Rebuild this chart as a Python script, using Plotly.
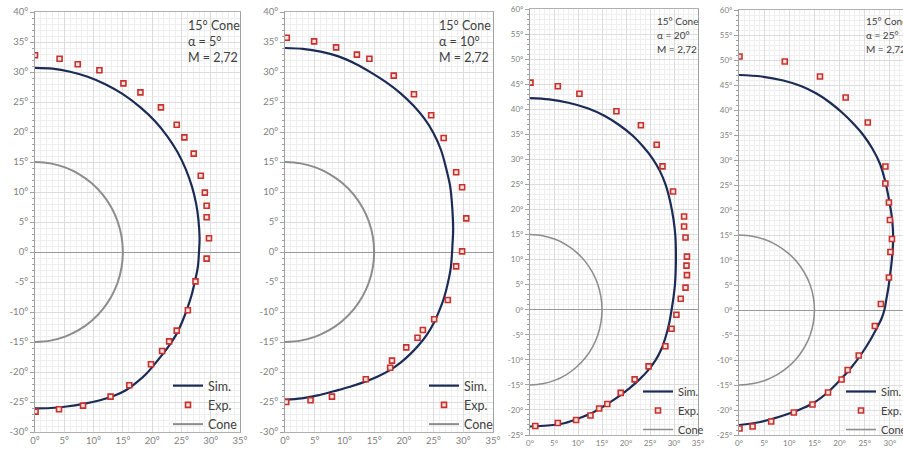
import plotly.graph_objects as go

W, H = 903, 450

# ---- data (angles in degrees) ----
cone_x = [0, 2.6, 5.13, 7.5, 9.64, 11.49, 12.99, 14.1, 14.77, 15.0,
          14.77, 14.1, 12.99, 11.49, 9.64, 7.5, 5.13, 2.6, 0]
cone_y = [15.0, 14.77, 14.1, 12.99, 11.49, 9.64, 7.5, 5.13, 2.6, 0.0,
          -2.6, -5.13, -7.5, -9.64, -11.49, -12.99, -14.1, -14.77, -15.0]

# alpha = 5
sim1_x = [0, 3.0, 6.0, 9.0, 12.0, 15.0, 18.0, 20.5, 22.5, 24.3, 25.7, 26.8, 27.5, 27.9, 28.1, 28.0,
          27.8, 27.3, 26.7, 25.9, 25.1, 24.2, 23.1, 21.9, 20.5, 19.1, 17.4, 15.6, 13.4, 11.1, 8.3, 5.4, 2.7, 0]
sim1_y = [30.7, 30.55, 30.04, 29.2, 27.95, 26.3, 24.1, 21.8, 19.4, 16.7, 13.9, 10.9, 8.1, 5.4, 2.3, 0.0,
          -2.5, -4.9, -7.3, -9.7, -11.7, -13.6, -15.3, -16.9, -18.6, -20.2, -21.7, -23.0, -24.0, -24.7, -25.3, -25.75, -26.0, -26.05]
exp1_x = [0, 4.2, 7.3, 11.0, 15.1, 18.0, 21.5, 24.2, 25.5, 27.1, 28.3, 29.0, 29.3, 29.3, 29.7, 29.3,
          27.4, 26.1, 24.2, 22.9, 21.7, 19.8, 16.1, 12.9, 8.2, 4.1, 0.1]
exp1_y = [32.8, 32.2, 31.3, 30.3, 28.1, 26.6, 24.1, 21.2, 19.1, 16.4, 12.7, 9.9, 7.7, 5.8, 2.3, -1.1,
          -4.9, -9.7, -13.1, -14.9, -16.5, -18.7, -22.2, -24.1, -25.6, -26.2, -26.6]

# alpha = 10
sim2_x = [0, 3.0, 6.0, 9.0, 12.0, 14.5, 17.0, 19.5, 21.6, 23.4, 25.0, 26.25, 27.1, 27.8, 28.15, 28.3, 28.2,
          27.9, 27.4, 26.8, 26.0, 25.1, 24.0, 22.7, 21.2, 19.5, 17.8, 15.7, 13.5, 10.8, 8.2, 5.5, 2.8, 0]
sim2_y = [34.0, 33.85, 33.4, 32.6, 31.3, 29.9, 28.3, 26.4, 24.4, 22.3, 19.8, 17.0, 14.0, 10.9, 7.3, 3.7, 1.5,
          -2.6, -5.2, -7.5, -9.7, -11.7, -13.6, -15.3, -16.9, -18.4, -19.6, -20.7, -21.6, -22.5, -23.2, -23.9, -24.4, -24.6]
exp2_x = [0.3, 4.9, 8.6, 12.1, 14.2, 18.3, 21.7, 24.6, 26.7, 28.8, 29.8, 30.5,
          29.8, 28.8, 27.4, 25.1, 23.2, 22.3, 20.4, 18.0, 17.7, 13.6, 7.9, 4.3, 0.2]
exp2_y = [35.7, 35.1, 34.1, 32.9, 32.2, 29.4, 26.3, 22.8, 19.0, 13.3, 10.8, 5.6,
          0.1, -2.4, -8.0, -11.2, -13.0, -14.3, -15.9, -18.1, -19.3, -21.2, -24.1, -24.7, -25.0]

# alpha = 20
sim3_x = [0, 4.0, 8.0, 12.0, 15.5, 18.5, 21.3, 23.6, 25.5, 27.1, 28.3, 29.2, 29.9, 30.3, 30.4, 30.35, 30.2,
          29.9, 29.5, 29.0, 28.3, 27.4, 26.2, 24.6, 22.7, 20.7, 18.5, 15.8, 12.9, 10.1, 7.3, 3.7, 0]
sim3_y = [42.2, 41.95, 41.3, 40.2, 38.7, 36.9, 34.8, 32.5, 30.2, 27.6, 24.8, 21.6, 18.0, 14.5, 11.0, 7.7, 5.0,
          2.5, 0.0, -2.7, -5.3, -7.8, -10.0, -12.1, -14.0, -15.7, -17.3, -19.0, -20.6, -21.7, -22.6, -23.1, -23.3]
exp3_x = [0.1, 5.8, 10.3, 18.0, 23.1, 26.4, 27.6, 29.8, 32.1, 32.1, 32.4, 32.7, 32.6, 32.7,
          32.4, 31.4, 30.5, 29.5, 28.2, 24.7, 21.8, 18.9, 16.1, 14.4, 12.6, 9.6, 5.8, 1.1]
exp3_y = [45.3, 44.6, 43.1, 39.6, 36.8, 32.9, 28.6, 23.6, 18.6, 16.6, 14.4, 10.6, 8.8, 6.9,
          4.4, 2.2, -1.0, -3.8, -7.3, -11.3, -13.9, -16.6, -18.8, -19.7, -21.1, -22.0, -22.6, -23.2]

# alpha = 25
sim4_x = [0, 4.5, 8.8, 12.3, 15.4, 18.2, 20.7, 22.9, 24.7, 26.5, 28.0, 29.0, 29.7, 30.3, 30.6, 30.6, 30.4,
          30.1, 29.7, 29.3, 28.9, 28.3, 27.4, 26.1, 24.4, 22.4, 20.1, 17.6, 14.8, 11.6, 8.2, 4.2, 0]
sim4_y = [47.0, 46.7, 45.9, 44.8, 43.3, 41.4, 39.3, 37.1, 35.0, 32.3, 29.3, 26.0, 22.7, 19.2, 16.0, 13.0, 10.2,
          7.5, 4.5, 2.2, 0.0, -1.8, -3.6, -6.0, -8.7, -11.4, -14.0, -16.5, -18.6, -20.1, -21.3, -22.4, -23.0]
exp4_x = [0.1, 9.1, 16.1, 21.2, 25.6, 29.1, 29.1, 29.8, 30.0, 30.4, 30.1, 29.8,
          28.2, 27.0, 23.8, 21.6, 20.4, 17.7, 14.6, 10.9, 6.4, 2.7, 0.1]
exp4_y = [50.7, 49.7, 46.7, 42.5, 37.5, 28.7, 25.3, 21.5, 18.0, 14.2, 11.6, 6.5,
          1.2, -3.2, -9.1, -12.0, -13.9, -16.5, -18.9, -20.5, -22.3, -23.3, -23.7]

alphas = ["5°", "10°", "20°", "25°"]
mach = "2,72"

x_ticks = [0, 5, 10, 15, 20, 25, 30, 35]

# ---- panel geometry (pixels) ----
panels = [
    dict(sx=sim1_x, sy=sim1_y, ex=exp1_x, ey=exp1_y, left=35, right=240, top=12, bottom=432,
         xr=[0, 35], yr=[-30, 40], txt_x=186, txt_y=[25, 41, 57], fs=12.5, lfs=12.5, tfs=9.5,
         cone_w=2, leg_r=243, leg_b=439),
    dict(sx=sim2_x, sy=sim2_y, ex=exp2_x, ey=exp2_y, left=285, right=493, top=12, bottom=432,
         xr=[0, 35], yr=[-30, 40], txt_x=437, txt_y=[25, 41, 57], fs=12.5, lfs=12.5, tfs=9.5,
         cone_w=2, leg_r=499, leg_b=439),
    dict(sx=sim3_x, sy=sim3_y, ex=exp3_x, ey=exp3_y, left=530, right=698, top=9, bottom=435,
         xr=[0, 35], yr=[-25, 60], txt_x=655, txt_y=[21, 35, 49], fs=10, lfs=11, tfs=8,
         cone_w=1.5, leg_r=709, leg_b=444),
    dict(sx=sim4_x, sy=sim4_y, ex=exp4_x, ey=exp4_y, left=739, right=903, top=10, bottom=435,
         xr=[0, 32.6], yr=[-25, 60], txt_x=864, txt_y=[21, 35, 49], fs=10, lfs=11, tfs=8,
         cone_w=1.5, leg_r=912, leg_b=444),
]

SIM_C = "#1c2b55"
EXP_C = "#c8302c"
CONE_C = "#8c8c8c"
FONT = "Lato"

fig = go.Figure()
layout = dict(width=W, height=H, margin=dict(l=0, r=0, t=0, b=0, autoexpand=False),
              paper_bgcolor="white", plot_bgcolor="white",
              font=dict(family=FONT, color="#404040"), annotations=[])


def deg_labels(vals):
    return [f"{v}°" for v in vals]


for i, p in enumerate(panels):
    n = i + 1
    sfx = "" if n == 1 else str(n)
    xa, ya = f"x{sfx}", f"y{sfx}"
    leg = "legend" if n == 1 else f"legend{n}"

    fig.add_trace(go.Scatter(x=p["sx"], y=p["sy"], mode="lines", name="Sim.",
                             line=dict(color=SIM_C, width=2.2, shape="spline", smoothing=1.0),
                             xaxis=xa, yaxis=ya, legend=leg))
    fig.add_trace(go.Scatter(x=p["ex"], y=p["ey"], mode="markers", name="Exp.",
                             marker=dict(symbol="square", size=5, color="#fbe3e1",
                                         line=dict(color=EXP_C, width=1.6)),
                             xaxis=xa, yaxis=ya, legend=leg))
    fig.add_trace(go.Scatter(x=cone_x, y=cone_y, mode="lines", name="Cone",
                             line=dict(color=CONE_C, width=p["cone_w"], shape="spline", smoothing=1.0),
                             xaxis=xa, yaxis=ya, legend=leg))

    xd = [p["left"] / W, p["right"] / W]
    yd = [1 - p["bottom"] / H, 1 - p["top"] / H]
    y_ticks = list(range(p["yr"][0], p["yr"][1] + 1, 5))
    tickfont = dict(family=FONT, size=p["tfs"], color="#7f7f7f")

    layout[f"xaxis{sfx}"] = dict(
        domain=xd, range=p["xr"], anchor=ya, tickvals=x_ticks, ticktext=deg_labels(x_ticks),
        tickfont=tickfont, showgrid=True, gridcolor="#dcdcdc", gridwidth=1,
        minor=dict(dtick=1, tick0=0, showgrid=True, gridcolor="#efefef"),
        showline=True, linecolor="#b0b0b0", mirror=True, ticks="", zeroline=False,
        fixedrange=True)
    layout[f"yaxis{sfx}"] = dict(
        domain=yd, range=p["yr"], anchor=xa, tickvals=y_ticks, ticktext=deg_labels(y_ticks),
        tickfont=tickfont, showgrid=True, gridcolor="#dcdcdc", gridwidth=1,
        minor=dict(dtick=1, tick0=0, showgrid=True, gridcolor="#efefef",
                   ticks="outside", ticklen=2, tickcolor="#a0a0a0"),
        ticks="outside", ticklen=4, tickcolor="#a0a0a0",
        showline=True, linecolor="#a0a0a0", mirror=(n != 4),
        zeroline=True, zerolinecolor="#9a9a9a", zerolinewidth=1.2, fixedrange=True)

    # tick marks crossing the horizontal zero line
    zero_pos = yd[0] + (yd[1] - yd[0]) * (0 - p["yr"][0]) / (p["yr"][1] - p["yr"][0])
    for k, side_ticks in enumerate(["outside", "inside"]):
        ax_id = 4 + n + 4 * k
        layout[f"xaxis{ax_id}"] = dict(
            domain=xd, range=p["xr"], overlaying=xa, anchor="free", position=zero_pos,
            side="bottom", tickvals=x_ticks, showticklabels=False, ticks=side_ticks,
            ticklen=3, tickcolor="#9a9a9a", showgrid=False, zeroline=False, showline=False,
            minor=dict(dtick=1, tick0=0, ticks=side_ticks, ticklen=2, tickcolor="#a8a8a8",
                       showgrid=False),
            fixedrange=True)

    # case description in the upper right corner
    for line_txt, ty in zip(["15° Cone", f"α = {alphas[i]}", f"M = {mach}"], p["txt_y"]):
        layout["annotations"].append(dict(
            text=line_txt, x=p["txt_x"] / W, y=1 - ty / H, xref="paper", yref="paper",
            xanchor="left", yanchor="middle", showarrow=False,
            font=dict(family=FONT, size=p["fs"], color="#404040")))

    layout[leg] = dict(
        x=p["leg_r"] / W, y=1 - p["leg_b"] / H, xanchor="right", yanchor="bottom",
        bgcolor="rgba(255,255,255,0)", borderwidth=0, traceorder="normal",
        font=dict(family=FONT, size=p["lfs"], color="#404040"), tracegroupgap=0,
        itemwidth=30)

fig.update_layout(**layout)
fig.write_html("out.html")
